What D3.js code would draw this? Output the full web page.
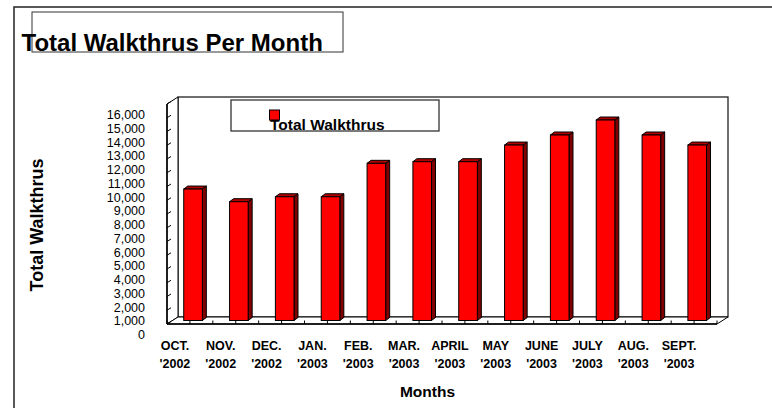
<!DOCTYPE html>
<html>
  <head>
    <meta charset="utf-8">
    <title>Total Walkthrus Per Month</title>
    <style>
      body { margin:0; background:white; }
      svg text { font-family: "Liberation Sans", Arial, sans-serif; fill:#000; }
      .bold { font-weight:bold; }
    </style>
  </head>
  <body>
  <svg id="chart" width="772" height="408"></svg>
  <script src="https://d3js.org/d3.v7.min.js"></script>
  <script>

  // data
  var months = ["OCT.", "NOV.", "DEC.", "JAN.", "FEB.", "MAR.", "APRIL", "MAY", "JUNE", "JULY", "AUG.", "SEPT."];
  var years = ["'2002", "'2002", "'2002", "'2003", "'2003", "'2003", "'2003", "'2003", "'2003", "'2003", "'2003", "'2003"];
  var walkthrus = [9560, 8640, 9000, 9000, 11430, 11550, 11550, 12760, 13490, 14580, 13490, 12760];
  var yTicks = d3.range(0, 16001, 1000);

  var svg = d3.select("#chart");

  // plot frame (front plane) and depth offset of the 3d box
  var plotLeft = 167, plotRight = 717, plotTop = 104, plotBottom = 324;
  var depthX = 11, depthY = 7;
  var barDx = 4, barDy = 3;

  var x = d3.scaleBand().domain(months).range([plotLeft, plotRight]);
  var y = d3.scaleLinear().domain([0, 16000]).range([plotBottom, plotTop]);

  // outer border
  svg.append("path")
    .attr("d", "M14,420 L14,7 L790,7")
    .attr("fill", "none").attr("stroke", "#222").attr("stroke-width", 1.5);

  // title box + title
  svg.append("rect")
    .attr("x", 32).attr("y", 12).attr("width", 311).attr("height", 40)
    .attr("fill", "none").attr("stroke", "#333").attr("stroke-width", 1);
  svg.append("text").attr("class", "bold")
    .attr("x", 21.5).attr("y", 50.5)
    .style("font-size", "24px")
    .text("Total Walkthrus Per Month");

  // back wall
  svg.append("rect")
    .attr("x", plotLeft + depthX).attr("y", plotTop - depthY)
    .attr("width", plotRight - plotLeft).attr("height", plotBottom - plotTop)
    .attr("fill", "white").attr("stroke", "#222").attr("stroke-width", 1.3);

  // side wall
  svg.append("polygon")
    .attr("points", [[plotLeft, plotTop], [plotLeft + depthX, plotTop - depthY], [plotLeft + depthX, plotBottom - depthY], [plotLeft, plotBottom]].join(" "))
    .attr("fill", "white").attr("stroke", "#000").attr("stroke-width", 1);

  // floor
  svg.append("polygon")
    .attr("points", [[plotLeft, plotBottom], [plotLeft + depthX, plotBottom - depthY], [plotRight + depthX, plotBottom - depthY], [plotRight, plotBottom]].join(" "))
    .attr("fill", "white").attr("stroke", "#000").attr("stroke-width", 1);

  // value axis line + ticks
  svg.append("line")
    .attr("x1", plotLeft).attr("x2", plotLeft).attr("y1", plotTop).attr("y2", plotBottom)
    .attr("stroke", "#000").attr("stroke-width", 1.5);
  svg.selectAll(".ytick").data(yTicks).enter().append("line")
    .attr("x1", plotLeft).attr("x2", plotLeft + 4)
    .attr("y1", function(d) { return y(d); })
    .attr("y2", function(d) { return y(d) - 2.5; })
    .attr("stroke", "#000").attr("stroke-width", 1);

  // value labels (sit a little below their ticks in the original)
  svg.selectAll(".ylab").data(yTicks).enter().append("text")
    .attr("x", 145)
    .attr("y", function(d) { return y(d) + 11; })
    .attr("text-anchor", "end")
    .attr("dominant-baseline", "central")
    .style("font-size", "12.5px")
    .text(d3.format(","));

  // category ticks on floor edge
  var catTicks = [];
  months.forEach(function(m) {
    catTicks.push(x(m));
    catTicks.push(x(m) + x.bandwidth() / 2);
  });
  catTicks.push(plotRight);
  svg.selectAll(".xtick").data(catTicks).enter().append("line")
    .attr("x1", function(d) { return d; })
    .attr("x2", function(d) { return d; })
    .attr("y1", plotBottom).attr("y2", plotBottom - 3.5)
    .attr("stroke", "#000").attr("stroke-width", 1);

  svg.append("line")
    .attr("x1", plotLeft).attr("x2", plotRight).attr("y1", plotBottom).attr("y2", plotBottom)
    .attr("stroke", "#000").attr("stroke-width", 1.5);

  // bars, standing at mid depth
  var base = y(0) - depthY / 2;
  var barW = x.bandwidth() * 0.406;
  var bars = svg.selectAll(".bar").data(walkthrus).enter().append("g");

  bars.each(function(v, i) {
    var g = d3.select(this);
    var x0 = x(months[i]) + x.bandwidth() * 0.365;
    var x1 = x0 + barW;
    var t = y(v) - depthY / 2;
    g.append("polygon")
      .attr("points", [[x1, t], [x1 + barDx, t - barDy], [x1 + barDx, base - barDy], [x1, base]].join(" "))
      .attr("fill", "#800000").attr("stroke", "#000").attr("stroke-width", 1);
    g.append("polygon")
      .attr("points", [[x0, t], [x0 + barDx, t - barDy], [x1 + barDx, t - barDy], [x1, t]].join(" "))
      .attr("fill", "#b00000").attr("stroke", "#000").attr("stroke-width", 1);
    g.append("rect")
      .attr("x", x0).attr("y", t).attr("width", barW).attr("height", base - t)
      .attr("fill", "#ff0000").attr("stroke", "#000").attr("stroke-width", 1);
  });

  // category labels (shifted left of the band centre, as in the original)
  var xl = svg.selectAll(".xlab").data(months).enter().append("text")
    .attr("class", "bold")
    .attr("text-anchor", "middle")
    .style("font-size", "12.5px");
  xl.append("tspan")
    .attr("x", function(d) { return x(d) + x.bandwidth() / 2 - 15; })
    .attr("y", 349.5)
    .text(function(d) { return d; });
  xl.append("tspan")
    .attr("x", function(d) { return x(d) + x.bandwidth() / 2 - 15; })
    .attr("y", 367.5)
    .text(function(d, i) { return years[i]; });

  // axis titles
  svg.append("text").attr("class", "bold")
    .attr("x", 427.5).attr("y", 397.3)
    .attr("text-anchor", "middle")
    .style("font-size", "15.5px")
    .text("Months");

  svg.append("text").attr("class", "bold")
    .attr("transform", "translate(43,225) rotate(-90)")
    .attr("text-anchor", "middle")
    .style("font-size", "18px")
    .text("Total Walkthrus");

  // legend
  svg.append("rect")
    .attr("x", 231).attr("y", 100).attr("width", 208).attr("height", 31)
    .attr("fill", "white").attr("stroke", "#333").attr("stroke-width", 1.3);
  svg.append("rect")
    .attr("x", 269.5).attr("y", 110).attr("width", 10).attr("height", 10)
    .attr("fill", "#ff0000").attr("stroke", "#000").attr("stroke-width", 1);
  svg.append("text").attr("class", "bold")
    .attr("x", 270).attr("y", 129.5)
    .style("font-size", "15.5px")
    .text("Total Walkthrus");

  </script>
  </body>
</html>
